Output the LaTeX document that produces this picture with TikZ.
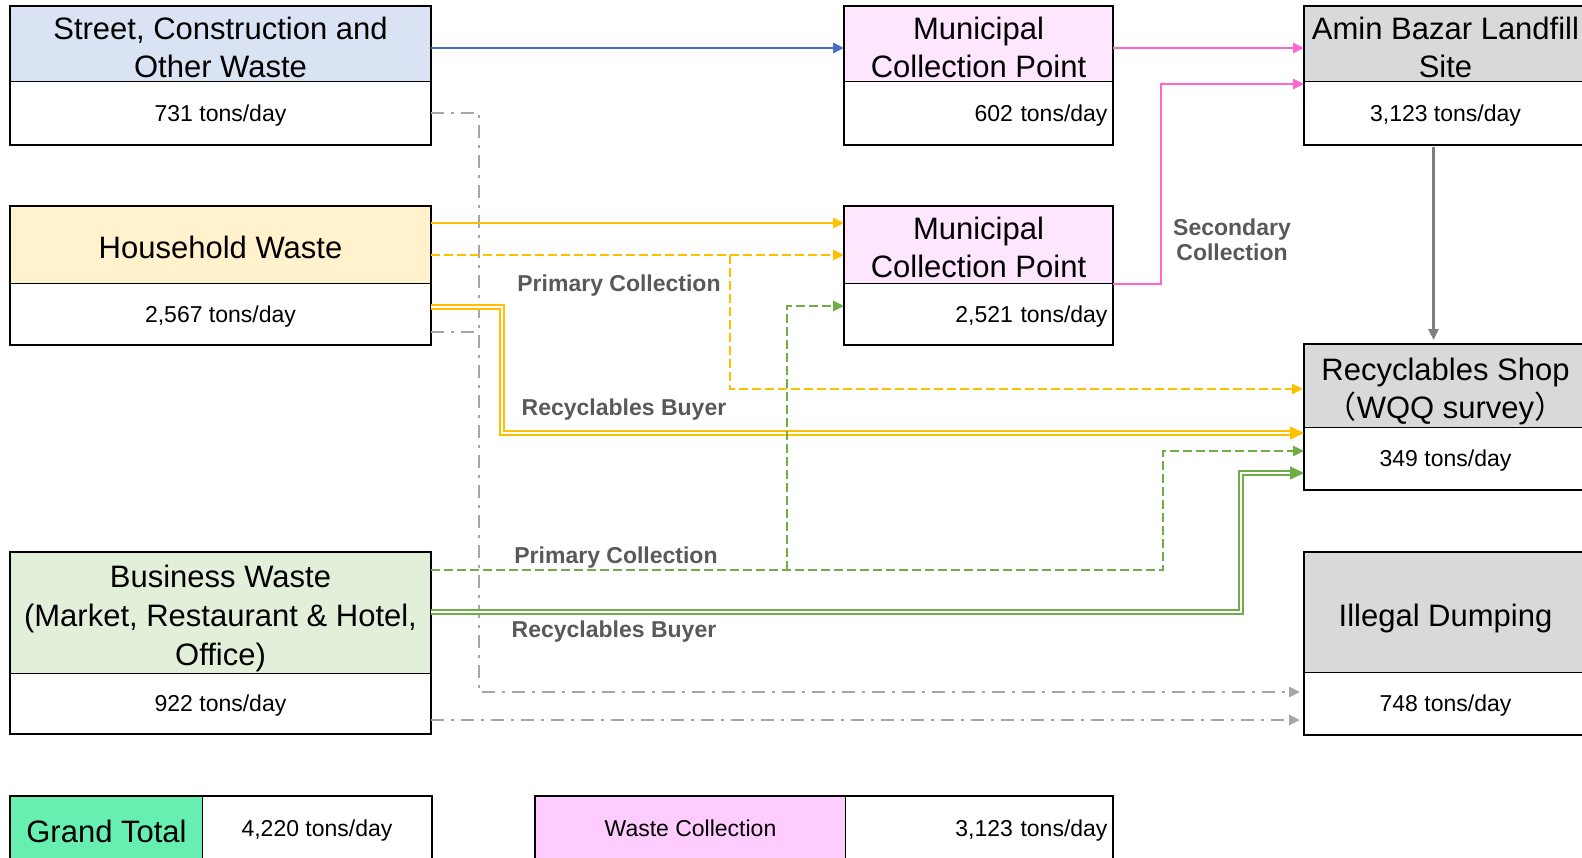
\documentclass[tikz,border=0pt]{standalone}
\usepackage{fontspec}
\setmainfont{Liberation Sans}
\newfontfamily\cjk{Noto Sans CJK SC}
\usetikzlibrary{arrows.meta,calc}

\definecolor{streetfill}{HTML}{DAE3F3}
\definecolor{housefill}{HTML}{FFF2CC}
\definecolor{bizfill}{HTML}{E2F0D9}
\definecolor{mcpfill}{HTML}{FFE6FF}
\definecolor{sinkfill}{HTML}{D9D9D9}
\definecolor{totalfill}{HTML}{66EFB0}
\definecolor{collfill}{HTML}{FFCCFF}
\definecolor{bluec}{HTML}{4472C4}
\definecolor{pinkc}{HTML}{FF66CC}
\definecolor{yellowc}{HTML}{FFC000}
\definecolor{greenc}{HTML}{70AD47}
\definecolor{dashgray}{HTML}{A6A6A6}
\definecolor{downgray}{HTML}{7F7F7F}
\definecolor{labelgray}{HTML}{595959}

% header text: centred lines, set a little lower than the geometric centre
\newcommand\hdrtext[1]{\raisebox{-6pt}[\height][\depth]{%
  \begin{tabular}{@{}c@{}}#1\end{tabular}}}

\begin{document}
\begin{tikzpicture}[x=1pt,y=-1pt,
  hdr/.style={draw=black, line width=1pt, anchor=north west, inner sep=0pt,
    font=\fontsize{31}{38}\selectfont},
  val/.style={draw=black, line width=1pt, anchor=north west, inner sep=0pt,
    fill=white, text height=16.5pt, text depth=0pt, font=\fontsize{23}{28}\selectfont},
  rval/.style={val, align=right},
  frame/.style={draw=black, line width=1.8pt},
  lbl/.style={font=\fontsize{23}{25}\bfseries\selectfont, text=labelgray,
    align=center, inner sep=0pt, text depth=0pt},
  tip/.style={-{Triangle[length=11pt,width=10pt]}},
  flow/.style={line width=2.8pt, tip},
  dashflow/.style={line width=2.8pt, dash pattern=on 9pt off 4pt, tip},
  dotflow/.style={draw=dashgray, line width=2.8pt,
    dash pattern=on 13pt off 7pt on 3pt off 7pt},
  dblflow/.style={double=white, line width=1.5pt, double distance=2.2pt,
    -{Triangle[length=14pt,width=13pt]}},
]
\useasboundingbox (0,0) rectangle (1582,857);
\clip (0,0) rectangle (1582,857);

% ---------- sources ----------
\node[hdr, fill=streetfill, minimum width=420pt, minimum height=75pt] (sh) at (10,6)
  {\hdrtext{Street, Construction and\\Other Waste}};
\node[val, minimum width=420pt, minimum height=63pt] (sv) at (10,81) {731 tons/day};
\draw[frame] (sh.north west) rectangle (sv.south east);

\node[hdr, fill=housefill, minimum width=420pt, minimum height=77pt] (hh) at (10,206)
  {\hdrtext{Household Waste}};
\node[val, minimum width=420pt, minimum height=61pt] (hv) at (10,283) {2,567 tons/day};
\draw[frame] (hh.north west) rectangle (hv.south east);

\node[hdr, fill=bizfill, minimum width=420pt, minimum height=121pt,
  font=\fontsize{31}{39}\selectfont] (bh) at (10,552)
  {\hdrtext{Business Waste\\(Market, Restaurant \& Hotel,\\Office)}};
\node[val, minimum width=420pt, minimum height=60pt] (bv) at (10,673) {922 tons/day};
\draw[frame] (bh.north west) rectangle (bv.south east);

% ---------- collection points ----------
\node[hdr, fill=mcpfill, minimum width=268pt, minimum height=75pt] (m1h) at (844,6)
  {\hdrtext{Municipal\\Collection Point}};
\node[rval, minimum width=268pt, minimum height=63pt, text width=258pt] (m1v) at (844,81)
  {602 tons/day};
\draw[frame] (m1h.north west) rectangle (m1v.south east);

\node[hdr, fill=mcpfill, minimum width=268pt, minimum height=77pt] (m2h) at (844,206)
  {\hdrtext{Municipal\\Collection Point}};
\node[rval, minimum width=268pt, minimum height=61pt, text width=258pt] (m2v) at (844,283)
  {2,521 tons/day};
\draw[frame] (m2h.north west) rectangle (m2v.south east);

% ---------- destinations ----------
\node[hdr, fill=sinkfill, minimum width=282pt, minimum height=75pt] (ah) at (1304,6)
  {\hdrtext{Amin Bazar Landfill\\Site}};
\node[val, minimum width=282pt, minimum height=63pt] (av) at (1304,81) {3,123 tons/day};
\draw[frame] (ah.north west) rectangle (av.south east);

\node[hdr, fill=sinkfill, minimum width=282pt, minimum height=83pt] (rh) at (1304,344)
  {\hdrtext{Recyclables Shop\\{\cjk （}WQQ survey{\cjk ）}}};
\node[val, minimum width=282pt, minimum height=62pt] (rv) at (1304,427) {349 tons/day};
\draw[frame] (rh.north west) rectangle (rv.south east);

\node[hdr, fill=sinkfill, minimum width=282pt, minimum height=120pt] (ih) at (1304,552)
  {\hdrtext{Illegal Dumping}};
\node[val, minimum width=282pt, minimum height=62pt] (iv) at (1304,672) {748 tons/day};
\draw[frame] (ih.north west) rectangle (iv.south east);

% ---------- totals ----------
\node[hdr, fill=totalfill, minimum width=192pt, minimum height=64pt] (gl) at (10,796)
  {\hdrtext{Grand Total}};
\node[val, minimum width=229pt, minimum height=64pt] (gv) at (202,796) {4,220 tons/day};
\draw[frame] (gl.north west) rectangle (gv.south east);

\node[val, fill=collfill, minimum width=310pt, minimum height=64pt] (wl) at (535,796)
  {Waste Collection};
\node[rval, minimum width=267pt, minimum height=64pt, text width=257pt] (wv) at (845,796)
  {3,123 tons/day};
\draw[frame] (wl.north west) rectangle (wv.south east);

% ---------- grey flows to illegal dumping ----------
\coordinate (gtop) at ($(sv.east)+(48,0)$);
\draw[dotflow, tip] (sv.east) -- (gtop) |- ($(iv.north west)+(-4,20)$);
\draw[dotflow] ($(hv.south east)+(0,-13)$) -- ($(hv.south east)+(48,-13)$);
\draw[dotflow, tip] ($(bv.north east)+(0,47)$) -- ($(iv.north west)+(-4,48)$);

% ---------- street waste ----------
\draw[flow, bluec] ($(sh.north east)+(0,42)$) -- ($(m1h.north west)+(0,42)$);

% ---------- household waste ----------
\draw[flow, yellowc] ($(hh.north east)+(0,17)$) -- ($(m2h.north west)+(0,17)$);
\coordinate (ysplit) at ($(hh.north east)+(299,49)$);
\draw[dashflow, yellowc] ($(hh.north east)+(0,49)$) -- ($(m2h.north west)+(0,49)$);
\draw[dashflow, yellowc] (ysplit) |- ($(rh.north west)+(-1,45)$);
\draw[dblflow, draw=yellowc] ($(hv.north east)+(0,24)$) -- ++(71,0)
  |- ($(rv.north west)+(0,6)$);

% ---------- business waste ----------
\coordinate (gsplit) at ($(bh.north east)+(356,18)$);
\draw[dashflow, greenc] ($(bh.north east)+(0,18)$) -- ++(732,0)
  |- ($(rv.north west)+(0,24)$);
\draw[dashflow, greenc] (gsplit) |- ($(m2v.north west)+(0,23)$);
\draw[dblflow, draw=greenc] ($(bh.north east)+(0,60)$) -- ++(810,0)
  |- ($(rv.north west)+(0,46)$);

% ---------- collection points to landfill ----------
\draw[flow, pinkc] ($(m1h.north east)+(0,42)$) -- ($(ah.north west)+(0,42)$);
\draw[flow, pinkc] (m2h.south east) -- ++(48,0) |- ($(ah.north west)+(0,78)$);

% ---------- landfill to recyclables shop ----------
\draw[flow, downgray] ($(av.south)+(-12,2)$) -- ($(rh.north)+(-12,-4)$);

% ---------- flow labels ----------
\node[lbl] (pc1) at (619,283) {Primary Collection};
\node[lbl] (rb1) at (624,407) {Recyclables Buyer};
\node[lbl] (pc2) at (616,555) {Primary Collection};
\node[lbl] (rb2) at (614,629) {Recyclables Buyer};
\node[lbl] (sc) at (1232,240) {Secondary\\Collection};
\end{tikzpicture}
\end{document}
